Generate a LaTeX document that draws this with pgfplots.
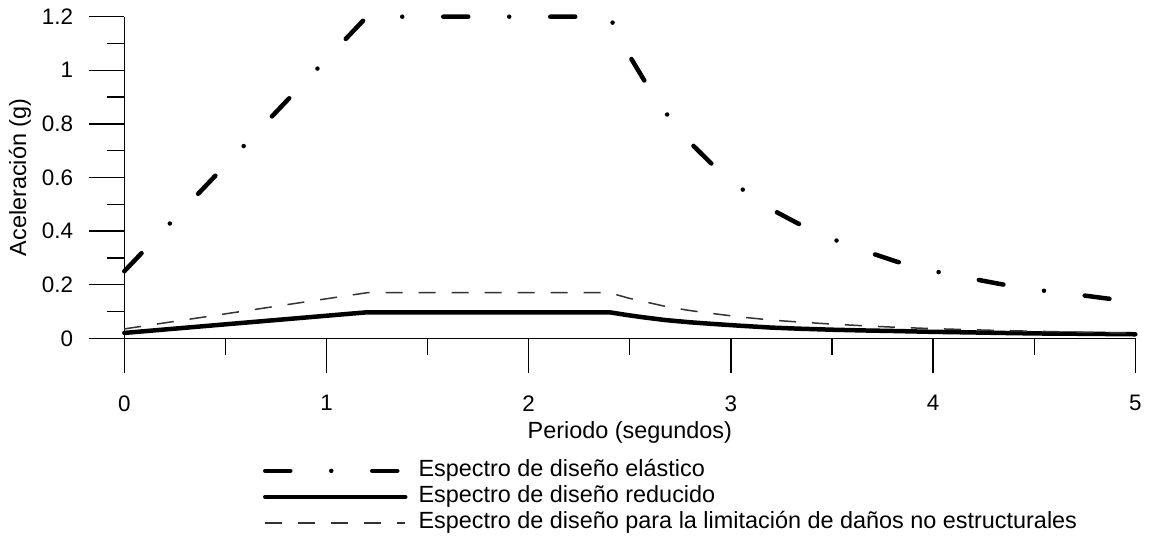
\documentclass[border=0pt]{standalone}
\usepackage{fontspec}
\setmainfont{Liberation Sans}
\usepackage{pgfplots}
\pgfplotsset{compat=1.18}
\begin{document}
\begin{tikzpicture}[x=1bp,y=1bp]
\useasboundingbox (0,0) rectangle (1151,550);
\begin{axis}[
  at={(124.3bp,211.7bp)}, anchor=south west,
  scale only axis, width=1011bp, height=321.6bp,
  xmin=0, xmax=5, ymin=0, ymax=1.2,
  clip=false,
  axis x line=bottom, axis y line=left,
  axis line style={-, line width=1.3bp, black},
  tick align=outside,
  major tick length=35bp, minor tick length=17bp,
  every tick/.style={black, line width=1.3bp},
  xtick={0,1,2,3,4,5}, minor x tick num=1,
  ytick={0,0.2,0.4,0.6,0.8,1,1.2}, minor y tick num=1,
  /pgf/number format/assume math mode=true,
  tick label style={font=\fontsize{22.5}{27}\selectfont},
  yticklabel style={inner sep=0pt, xshift=-16bp},
  xticklabel style={inner sep=0pt, yshift=-22bp},
  xlabel={Periodo (segundos)},
  ylabel={Aceleración (g)},
  label style={font=\fontsize{23.5}{28}\selectfont},
  xlabel style={at={(axis description cs:0.5,-0.2913)}, anchor=center},
  ylabel style={at={(axis description cs:-0.1032,0.5)}, anchor=center},
  legend style={at={(axis description cs:0.1372,-0.378)}, anchor=north west,
    draw=none, fill=none, inner sep=0pt, outer sep=0pt,
    font=\fontsize{23.5}{28}\selectfont,
    nodes={inner sep=0pt, text height=17bp, text depth=5bp},
    column sep=11bp, row sep=4bp},
  legend cell align=left,
  legend image code/.code={\draw[#1] (0bp,0bp) -- (140bp,0bp);},
]
\addplot[black, line width=4.5bp, line cap=round, line join=round,
  dash pattern=on 25bp off 41bp on 0bp off 41bp] coordinates {
(0,0.25) (1.2,1.2) (2.4,1.2) (2.493,1.061) (2.570,0.964) (2.676,0.843)
(2.793,0.734) (2.902,0.653) (3.043,0.563) (3.198,0.482) (3.330,0.429)
(3.500,0.371) (3.672,0.323) (3.820,0.286) (4.000,0.251) (4.182,0.224)
(4.335,0.202) (4.517,0.180) (4.702,0.164) (4.854,0.149) (5.000,0.137)
};
\addlegendentry{Espectro de diseño elástico}
\addplot[black, line width=4.5bp, line cap=round, line join=round] coordinates {
(0,0.020) (1.2,0.097) (2.4,0.097) (2.493,0.086) (2.570,0.078) (2.676,0.068)
(2.793,0.060) (2.902,0.054) (3.043,0.047) (3.198,0.040) (3.330,0.036)
(3.500,0.032) (3.672,0.029) (3.820,0.027) (4.000,0.024) (4.182,0.022)
(4.335,0.020) (4.517,0.018) (4.702,0.017) (4.854,0.016) (5.000,0.015)
};
\addlegendentry{Espectro de diseño reducido}
\addplot[black!80, line width=1.5bp, dash pattern=on 17bp off 16bp] coordinates {
(0,0.035) (1.2,0.170) (2.4,0.170) (2.493,0.150) (2.570,0.137) (2.676,0.119)
(2.793,0.104) (2.902,0.093) (3.043,0.080) (3.198,0.068) (3.330,0.061)
(3.500,0.053) (3.672,0.046) (3.820,0.041) (4.000,0.036) (4.182,0.032)
(4.335,0.029) (4.517,0.026) (4.702,0.023) (4.854,0.021) (5.000,0.019)
};
\addlegendentry{Espectro de diseño para la limitación de daños no estructurales}
\end{axis}
\end{tikzpicture}
\end{document}
